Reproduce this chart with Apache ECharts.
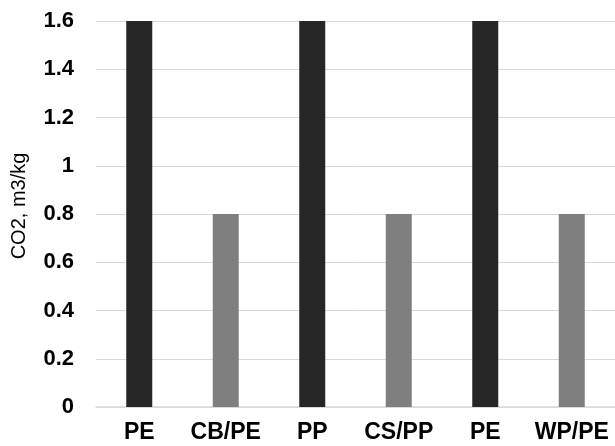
<!DOCTYPE html>
<html><head><meta charset="utf-8">
<script src="https://cdn.jsdelivr.net/npm/echarts@6/dist/echarts.min.js"></script>
<style>html,body{margin:0;padding:0;background:#fff}#c{width:615px;height:446px}</style>
</head><body><div id="c"></div>
<script>
const categories = ['PE','CB/PE','PP','CS/PP','PE','WP/PE'];
const values = [1.6, 0.8, 1.6, 0.8, 1.6, 0.8];
const barColors = ['#262626','#7f7f7f','#262626','#7f7f7f','#262626','#7f7f7f'];
const yTicks = {min:0, max:1.6, interval:0.2};

const chart = echarts.init(document.getElementById('c'), null, {renderer:'canvas'});
chart.setOption({
  animation:false,
  backgroundColor:'#fff',
  grid:{left:96, top:21, width:522, bottom:39, containLabel:false},
  xAxis:{type:'category', data:categories,
    axisLine:{lineStyle:{color:'#d9d9d9', width:1.5}},
    axisTick:{show:false},
    axisLabel:{color:'#000', fontFamily:'Liberation Sans, Arial', fontWeight:'bold', fontSize:23, margin:14, interval:0}
  },
  yAxis:{type:'value', min:yTicks.min, max:yTicks.max, interval:yTicks.interval,
    name:'CO2, m3/kg', nameLocation:'middle', nameGap:67, nameRotate:90,
    nameTextStyle:{color:'#000', fontFamily:'Liberation Sans, Arial', fontSize:20, padding:[0,0,0,16]},
    axisLine:{show:false}, axisTick:{show:false},
    splitLine:{lineStyle:{color:'#d9d9d9', width:1}},
    axisLabel:{color:'#000', fontFamily:'Liberation Sans, Arial', fontWeight:'bold', fontSize:22, margin:22,
      formatter:v=>String(Math.round(v*10)/10)}
  },
  series:[{type:'bar', barWidth:26,
    data:values.map((v,i)=>({value:v, itemStyle:{color:barColors[i]}})),
  }]
});
</script></body></html>
